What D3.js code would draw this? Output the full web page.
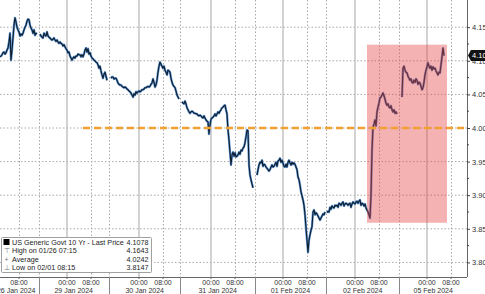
<!DOCTYPE html>
<html>
<head>
<meta charset="utf-8">
<script src="https://cdn.jsdelivr.net/npm/d3@7"></script>
<style>
  body { margin: 0; background: #fff; overflow: hidden; }
  svg { display: block; font-family: "Liberation Sans", Arial, sans-serif; }
</style>
</head>
<body>
<div id="chart"></div>
<script>
// trading days shown on the axis (weekend removed)
const days = ["26 Jan 2024", "29 Jan 2024", "30 Jan 2024", "31 Jan 2024", "01 Feb 2024", "02 Feb 2024", "05 Feb 2024"]
const timeLabels = ["00:00", "08:00"]
const yTicks = [3.80, 3.85, 3.90, 3.95, 4.00, 4.05, 4.10, 4.15]
const yMinor = [3.825, 3.875, 3.925, 3.975, 4.025, 4.075, 4.125]

// 20 minute bars, one session per trading day
const stepMinutes = 20
const s1 = [4.106,4.107,4.109,4.112,4.113,4.110,4.112,4.116,4.119,4.128,4.141,4.101,4.116,4.134,4.153,4.164,4.158,4.150,4.146,4.143,
  4.137,4.140,4.138,4.141,4.146,4.150,4.153,4.159,4.162,4.161,4.153,4.149,4.146,4.141,4.146,4.138,4.141,4.140]
const s2 = [4.140,4.137,4.135,4.134,4.141,4.138,4.137,4.143,4.137,4.135,4.134,4.132,4.131,4.132,4.134,4.131,4.129,4.131,4.128,4.126,
  4.128,4.126,4.125,4.122,4.124,4.121,4.118,4.116,4.112,4.113,4.107,4.104,4.101,4.104,4.106,4.104,4.107,4.107,4.110,4.109,
  4.109,4.106,4.109,4.106,4.110,4.116,4.119,4.113,4.118,4.110,4.112,4.107,4.104,4.103,4.101,4.100,4.098,4.097,4.094,4.089,
  4.092,4.085,4.079,4.074,4.080,4.083,4.077,4.071]
const s3 = [4.074,4.076,4.076,4.073,4.074,4.074,4.071,4.067,4.065,4.064,4.064,4.062,4.061,4.060,4.061,4.060,4.058,4.057,4.055,4.054,
  4.052,4.049,4.046,4.051,4.049,4.054,4.052,4.054,4.055,4.054,4.055,4.057,4.057,4.058,4.060,4.060,4.061,4.062,4.061,4.062,
  4.065,4.067,4.073,4.068,4.061,4.064,4.071,4.083,4.092,4.098,4.095,4.092,4.089,4.092,4.086,4.083,4.079,4.086,4.085,4.083,
  4.074,4.068,4.064,4.062,4.060,4.055,4.049,4.046,4.043]
const s4 = [4.039,4.037,4.036,4.040,4.036,4.030,4.027,4.024,4.022,4.024,4.025,4.024,4.022,4.022,4.021,4.021,4.019,4.018,4.019,4.018,
  4.016,4.015,4.018,4.015,4.012,4.010,4.009,3.991,4.004,4.013,4.015,4.016,4.018,4.021,4.018,4.021,4.024,4.022,4.025,4.027,
  4.030,4.031,4.033,4.034,4.027,4.021,3.997,3.982,3.964,3.945,3.960,3.964,3.958,3.963,3.957,3.958,3.960,3.964,3.961,3.967,
  3.966,3.970,3.972,3.978,3.987,3.997,3.996,3.945,3.930,3.923,3.917,3.911]
const s5 = [3.930,3.938,3.945,3.949,3.948,3.952,3.943,3.946,3.945,3.942,3.940,3.938,3.936,3.938,3.942,3.945,3.942,3.943,3.946,3.949,
  3.943,3.951,3.952,3.955,3.949,3.952,3.948,3.943,3.942,3.946,3.942,3.949,3.952,3.948,3.945,3.949,3.946,3.948,3.946,3.942,
  3.938,3.927,3.923,3.915,3.905,3.899,3.893,3.885,3.871,3.851,3.833,3.815,3.833,3.841,3.848,3.853,3.875,3.878,3.871,3.874,
  3.872,3.869,3.866,3.863,3.866,3.869,3.872,3.871,3.875]
const s6 = [3.874,3.876,3.875,3.882,3.879,3.884,3.882,3.881,3.885,3.884,3.885,3.882,3.888,3.887,3.885,3.888,3.890,3.884,3.887,3.888,
  3.887,3.885,3.887,3.888,3.882,3.887,3.890,3.888,3.887,3.890,3.891,3.888,3.891,3.893,3.885,3.888,3.887,3.884,3.887,3.881,
  3.878,3.875,3.871,3.866,3.900,3.967,4.001,4.006,4.012,4.003,4.024,4.031,4.037,4.045,4.046,4.049,4.052,4.048,4.043,4.037,
  4.034,4.036,4.031,4.030,4.033,4.027,4.024,4.027,4.022,4.024,4.021]
const s7 = [4.046,4.089,4.092,4.086,4.083,4.082,4.077,4.074,4.071,4.073,4.068,4.067,4.071,4.068,4.073,4.071,4.065,4.068,4.067,4.062,
  4.057,4.060,4.068,4.079,4.086,4.091,4.097,4.092,4.089,4.092,4.086,4.091,4.088,4.089,4.085,4.082,4.079,4.083,4.082,4.094,
  4.106,4.119,4.1078]
const sessionDays = [0, 0, 1, 2, 3, 4, 5]
const sessionStarts = ["01:40", "15:00", "14:40", "14:20", "15:20", "14:40", "15:40"]
const sessionValues = [s1, s2, s3, s4, s5, s6, s7]

const viewStart = [0, "01:40"], viewEnd = [6, "13:20"]
const refLevel = 4.00, refStart = [1, "05:20"]
const boxFrom = [5, "04:00"], boxTo = [6, "06:40"], boxHigh = 4.124, boxLow = 3.859

const legendLabels = ["US Generic Govt 10 Yr - Last Price", "High on 01/26 07:15", "Average", "Low on 02/01 08:15"]
const legendValues = ["4.1078", "4.1643", "4.0242", "3.8147"]
const lastPrice = 4.1078

function hrs(day, hhmm) {
    let [h, m] = hhmm.split(":").map(Number)
    return day * 24 + h + m / 60
}

let width = 485, height = 294
let plotRight = 467, axisY = 277

let svg = d3.select("#chart").append("svg")
    .attr("width", width).attr("height", height)

let x = d3.scaleLinear().domain([hrs(...viewStart), hrs(...viewEnd)]).range([0, plotRight])
let y = d3.scaleLinear().domain([3.80, 4.15]).range([262.4, 27.2])

let series = sessionValues.map((vals, i) => {
    let t0 = hrs(sessionDays[i], sessionStarts[i])
    return vals.map((v, j) => [t0 + j * stepMinutes / 60, v])
})

// session breaks = half way between one session end and the next start
let breaks = []
for (let i = 1; i < series.length; i++) {
    let prevEnd = series[i - 1][series[i - 1].length - 1][0]
    breaks.push((prevEnd + series[i][0][0]) / 2)
}

let grid = svg.append("g")
grid.selectAll(".hgrid").data(yTicks).join("line")
    .attr("x1", 0).attr("x2", plotRight)
    .attr("y1", d => y(d)).attr("y2", d => y(d))
    .attr("stroke", "#a9a9a9").attr("stroke-dasharray", "1.5,2")

let midnights = d3.range(1, days.length).map(d => d * 24)
let eights = d3.range(0, days.length).map(d => d * 24 + 8)
grid.selectAll(".mid").data(midnights).join("line")
    .attr("x1", d => x(d)).attr("x2", d => x(d))
    .attr("y1", 0).attr("y2", axisY)
    .attr("stroke", "#b5b5b5").attr("stroke-width", 1.2)
grid.selectAll(".eight").data(eights.concat(breaks)).join("line")
    .attr("x1", d => Math.round(x(d)) + 0.5).attr("x2", d => Math.round(x(d)) + 0.5)
    .attr("y1", 0).attr("y2", axisY)
    .attr("stroke", "#a9a9a9").attr("stroke-dasharray", "1.5,2")

// price line
let line = d3.line().x(d => x(d[0])).y(d => y(d[1]))
let lines = svg.append("g").attr("fill", "none")
lines.selectAll(".glow").data(series).join("path")
    .attr("d", line).attr("stroke", "#5b93cf").attr("stroke-width", 2.3).attr("stroke-linejoin", "round")
lines.selectAll(".core").data(series).join("path")
    .attr("d", line).attr("stroke", "#0e1c2e").attr("stroke-width", 1.1).attr("stroke-linejoin", "round")

// highlighted window
svg.append("rect")
    .attr("x", x(hrs(...boxFrom))).attr("y", y(boxHigh))
    .attr("width", x(hrs(...boxTo)) - x(hrs(...boxFrom)))
    .attr("height", y(boxLow) - y(boxHigh))
    .attr("fill", "#e8484a").attr("fill-opacity", 0.42)

// 4.00 level
svg.append("line")
    .attr("x1", x(hrs(...refStart))).attr("x2", plotRight)
    .attr("y1", y(refLevel)).attr("y2", y(refLevel))
    .attr("stroke", "#f2a031").attr("stroke-width", 2.6).attr("stroke-dasharray", "7,4")

// right axis
let yAxis = svg.append("g").attr("transform", `translate(${plotRight},0)`)
    .call(d3.axisRight(y).tickValues(yTicks).tickSize(3).tickPadding(2).tickFormat(d3.format(".2f")))
yAxis.select(".domain").attr("stroke", "#666").attr("d", `M0.5,0V${axisY}`)
yAxis.selectAll(".tick line").attr("stroke", "#444")
yAxis.selectAll(".tick text").attr("font-size", 7.5).attr("fill", "#333").attr("font-family", "Liberation Sans, Arial, sans-serif")
yAxis.selectAll(".minor").data(yMinor).join("line").attr("class", "minor")
    .attr("x1", 0).attr("x2", 2).attr("y1", d => y(d)).attr("y2", d => y(d)).attr("stroke", "#444")

// last price tag
let tag = svg.append("g").attr("transform", `translate(${plotRight + 1},${y(lastPrice)})`)
tag.append("path").attr("d", "M0,0L3,-5.5H22V5.5H3Z").attr("fill", "#111")
tag.append("text").attr("x", 4).attr("y", 2.6).attr("font-size", 7.5).attr("fill", "#fff")
    .text(d3.format(".4f")(lastPrice))

// bottom axis
let xa = svg.append("g")
xa.append("line").attr("x1", 0).attr("x2", plotRight).attr("y1", axisY + 0.5).attr("y2", axisY + 0.5).attr("stroke", "#666")
xa.selectAll(".sep").data(breaks).join("line")
    .attr("x1", d => Math.round(x(d)) + 0.5).attr("x2", d => Math.round(x(d)) + 0.5)
    .attr("y1", axisY).attr("y2", height).attr("stroke", "#888")
let ticks = midnights.map(t => [t, timeLabels[0]]).concat(eights.map(t => [t, timeLabels[1]]))
xa.selectAll(".tk").data(ticks).join("line")
    .attr("x1", d => x(d[0])).attr("x2", d => x(d[0]))
    .attr("y1", axisY).attr("y2", axisY + 2).attr("stroke", "#666")
xa.selectAll(".tl").data(ticks).join("text")
    .attr("x", d => x(d[0])).attr("y", 284.5)
    .attr("text-anchor", "middle").attr("font-size", 7).attr("fill", "#333")
    .text(d => d[1])
let bounds = [null].concat(breaks).concat([x.invert(plotRight)])
xa.selectAll(".dl").data(days).join("text")
    .attr("x", (d, i) => i == 0 ? x(bounds[1]) - 3 : (x(bounds[i]) + x(bounds[i + 1])) / 2)
    .attr("y", 293)
    .attr("text-anchor", (d, i) => i == 0 ? "end" : "middle")
    .attr("font-size", 7).attr("fill", "#333")
    .text(d => d)

// legend
let lg = svg.append("g").attr("transform", "translate(1.5,237.5)")
lg.append("rect").attr("width", 150).attr("height", 35).attr("fill", "#fff").attr("stroke", "#a0a0a0").attr("rx", 1)
let rows = lg.selectAll(".row").data(legendLabels).join("g")
    .attr("transform", (d, i) => `translate(0,${5 + i * 8.2})`)
rows.append("text").attr("x", 10.5).attr("y", 2.6).attr("font-size", 7.2).attr("fill", "#222").text(d => d)
rows.append("text").attr("x", 147).attr("y", 2.6).attr("font-size", 7.2).attr("fill", "#222")
    .attr("text-anchor", "end").text((d, i) => legendValues[i])
let icons = ["\u22A4", "+", "\u22A5"]
lg.append("rect").attr("x", 2).attr("y", 1.5).attr("width", 6).attr("height", 6).attr("fill", "#000")
rows.filter((d, i) => i > 0).append("text")
    .attr("x", 5).attr("y", 2.6).attr("text-anchor", "middle").attr("font-size", 7).attr("fill", "#777")
    .text((d, i) => icons[i])
</script>
</body>
</html>
